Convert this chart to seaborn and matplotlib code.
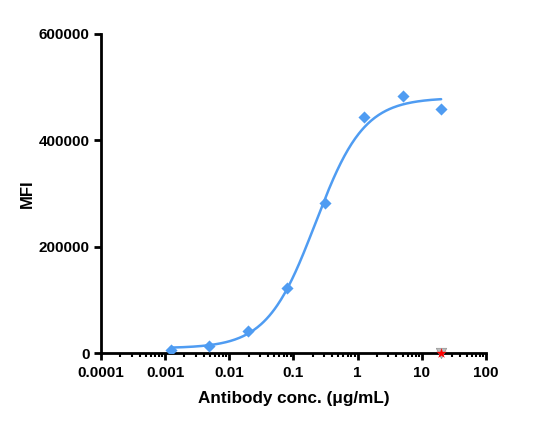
import numpy as np
import pandas as pd
import matplotlib
matplotlib.use("Agg")
import matplotlib.pyplot as plt
import seaborn as sns

# antibody titration (4-fold dilution)
conc = [0.00122, 0.00488, 0.0195, 0.078, 0.3125, 1.25, 5.0, 20.0]
mfi = [5600, 13000, 42000, 122800, 282700, 444500, 483400, 459000]

# control (isotype / blank) at top concentration
ctrl_conc = [20.0]
ctrl_mfi = [0]
iso_mfi = [0]

# 4PL fit parameters
fit_bottom = 9000
fit_top = 480000
fit_ec50 = 0.22
fit_hill = 1.15

xtick_vals = [0.0001, 0.001, 0.01, 0.1, 1, 10, 100]
xtick_labels = ["0.0001", "0.001", "0.01", "0.1", "1", "10", "100"]
ytick_vals = [0, 200000, 400000, 600000]
ytick_labels = ["0", "200000", "400000", "600000"]

blue = "#4f9cf2"

sns.set_style("ticks")
plt.rcParams["font.family"] = ["Liberation Sans", "DejaVu Sans"]
plt.rcParams["text.color"] = "black"
plt.rcParams["axes.labelcolor"] = "black"

fig = plt.figure(figsize=(5.36, 4.34), dpi=100)
ax = fig.add_axes([0.1884, 0.1866, 0.7183, 0.7351])

xs = np.logspace(np.log10(conc[0]), np.log10(conc[-1]), 300)
ys = fit_bottom + (fit_top - fit_bottom) / (1 + (fit_ec50 / xs) ** fit_hill)
sns.lineplot(x=xs, y=ys, ax=ax, color=blue, linewidth=1.8)

df = pd.DataFrame({"conc": conc, "mfi": mfi})
sns.scatterplot(data=df, x="conc", y="mfi", ax=ax, marker="D", s=38,
                color=blue, edgecolor=blue, linewidth=0, zorder=3)

ax.scatter(ctrl_conc, iso_mfi, marker="v", s=55, color="#bdbdbd",
           edgecolor="#9a9a9a", linewidth=0.6, zorder=4, clip_on=False)
ax.scatter(ctrl_conc, ctrl_mfi, marker="*", s=60, color="red",
           linewidth=0, zorder=5, clip_on=False)

ax.set_xscale("log")
ax.set_xlim(0.0001, 100)
ax.set_ylim(0, 600000)
ax.set_xticks(xtick_vals)
ax.set_xticklabels(xtick_labels, fontweight="bold")
ax.set_yticks(ytick_vals)
ax.set_yticklabels(ytick_labels, fontweight="bold")

sns.despine(ax=ax)
for side in ["left", "bottom"]:
    ax.spines[side].set_linewidth(2)
    ax.spines[side].set_color("black")
ax.tick_params(axis="both", which="major", length=5, width=2, labelsize=11,
               colors="black", labelcolor="black")
ax.tick_params(axis="x", which="major", pad=4.5)
ax.tick_params(axis="y", which="major", pad=3)
ax.tick_params(axis="x", which="minor", length=3, width=1.5, colors="black")

ax.set_xlabel("Antibody conc. (μg/mL)", fontsize=12.3, fontweight="bold", labelpad=8)
ax.set_ylabel("MFI", fontsize=12, fontweight="bold", labelpad=3)

fig.savefig("out.png", dpi=100)
